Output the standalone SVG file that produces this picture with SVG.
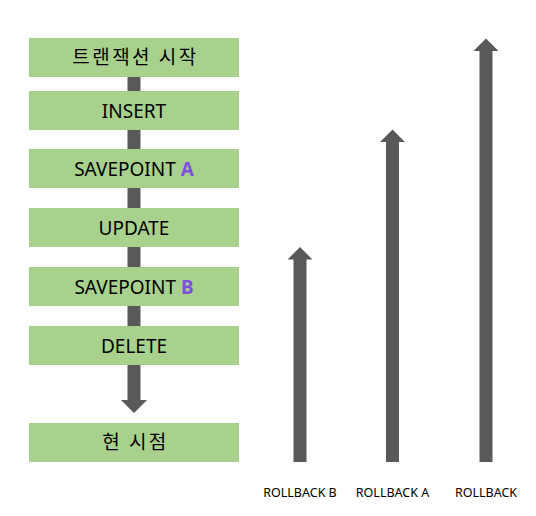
<svg xmlns="http://www.w3.org/2000/svg" width="536" height="516" viewBox="0 0 536 516">
<style>
.box{fill:#A9D18E}
.t{font-family:"Noto Sans","Noto Sans CJK KR",sans-serif;font-size:19px;fill:#000;text-anchor:middle}
.k{font-family:"Noto Sans CJK KR",sans-serif;letter-spacing:2.5px}
.hl{fill:#7F4FE0;font-weight:bold}
.arr{fill:#595959}
.lab{font-family:"Noto Sans","Noto Sans CJK KR",sans-serif;font-size:12.5px;fill:#000;text-anchor:middle}
</style>
<rect width="536" height="516" fill="#fff"/>
<g id="connectors">
<polygon class="arr" points="127.5,77 140.5,77 140.5,400 147,400 134,413 121,400 127.5,400"/>
<polygon class="arr" points="293.5,462 306.5,462 306.5,259.5 312.5,259.5 300,247 287.5,259.5 293.5,259.5"/>
<polygon class="arr" points="386,462 399,462 399,142 405,142 392.5,129.5 380,142 386,142"/>
<polygon class="arr" points="479.5,462 492.5,462 492.5,51 498.5,51 486,38.5 473.5,51 479.5,51"/>
</g>
<g id="n1"><rect class="box" x="29" y="38" width="210" height="39"/><text class="t k" x="135.5" y="64">트랜잭션 시작</text></g>
<g id="n2"><rect class="box" x="29" y="91" width="210" height="39"/><text class="t" x="134" y="117.5">INSERT</text></g>
<g id="n3"><rect class="box" x="29" y="149" width="210" height="39"/><text class="t" x="134" y="175.5">SAVEPOINT <tspan class="hl">A</tspan></text></g>
<g id="n4"><rect class="box" x="29" y="208" width="210" height="39"/><text class="t" x="134" y="234.5">UPDATE</text></g>
<g id="n5"><rect class="box" x="29" y="267" width="210" height="39"/><text class="t" x="134" y="293.5">SAVEPOINT <tspan class="hl">B</tspan></text></g>
<g id="n6"><rect class="box" x="29" y="326" width="210" height="39"/><text class="t" x="134" y="352.5">DELETE</text></g>
<g id="n7"><rect class="box" x="29" y="423" width="210" height="39"/><text class="t k" x="135.5" y="449">현 시점</text></g>
<g id="labels">
<text class="lab" x="300" y="497">ROLLBACK B</text>
<text class="lab" x="392.5" y="497">ROLLBACK A</text>
<text class="lab" x="486" y="497">ROLLBACK</text>
</g>
</svg>
